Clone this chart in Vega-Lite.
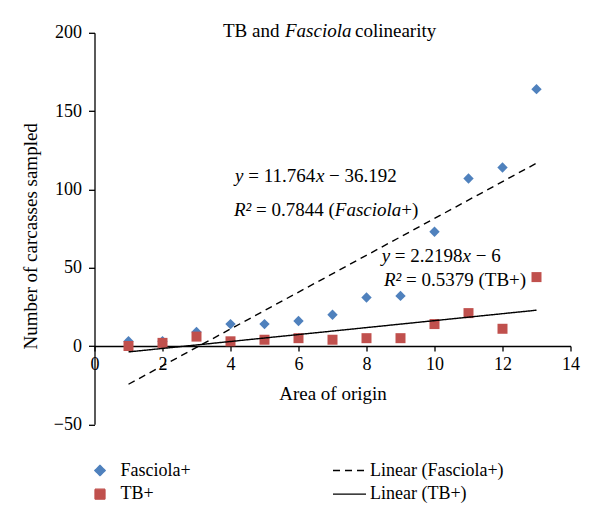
{
  "$schema": "https://vega.github.io/schema/vega-lite/v6.json",
  "width": 476,
  "height": 391.5,
  "autosize": "none",
  "padding": {"left": 94.5, "top": 32.8, "right": 29.5, "bottom": 99.7},
  "background": "white",
  "config": {
    "font": "Liberation Serif",
    "view": {"stroke": null},
    "axis": {
      "grid": false,
      "domainColor": "black",
      "domainWidth": 1.3,
      "tickColor": "black",
      "tickWidth": 1.3,
      "labelColor": "black",
      "titleColor": "black",
      "labelFont": "Liberation Serif",
      "titleFont": "Liberation Serif",
      "labelFontSize": 18,
      "titleFontSize": 19,
      "titleFontWeight": "normal",
      "labelFlush": false,
      "labelOverlap": false
    },
    "legend": {
      "title": null, "orient": "none", "legendX": -12, "legendY": 427.7,
      "padding": 0, "columns": 2, "columnPadding": 140.5, "rowPadding": 3.7,
      "clipHeight": 20, "labelOffset": 3,
      "labelFont": "Liberation Serif", "labelFontSize": 18, "labelColor": "black",
      "symbolStrokeWidth": 1.3, "symbolOpacity": 1
    },
    "text": {"font": "Liberation Serif", "fontSize": 19, "color": "black"}
  },
  "layer": [
    {
      "data": {
        "values": [
          {"area": 1, "count": 3, "series": "Fasciola+", "trend": "Linear (Fasciola+)"},
          {"area": 2, "count": 3, "series": "Fasciola+", "trend": "Linear (Fasciola+)"},
          {"area": 3, "count": 9, "series": "Fasciola+", "trend": "Linear (Fasciola+)"},
          {"area": 4, "count": 14, "series": "Fasciola+", "trend": "Linear (Fasciola+)"},
          {"area": 5, "count": 14, "series": "Fasciola+", "trend": "Linear (Fasciola+)"},
          {"area": 6, "count": 16, "series": "Fasciola+", "trend": "Linear (Fasciola+)"},
          {"area": 7, "count": 20, "series": "Fasciola+", "trend": "Linear (Fasciola+)"},
          {"area": 8, "count": 31, "series": "Fasciola+", "trend": "Linear (Fasciola+)"},
          {"area": 9, "count": 32, "series": "Fasciola+", "trend": "Linear (Fasciola+)"},
          {"area": 10, "count": 73, "series": "Fasciola+", "trend": "Linear (Fasciola+)"},
          {"area": 11, "count": 107, "series": "Fasciola+", "trend": "Linear (Fasciola+)"},
          {"area": 12, "count": 114, "series": "Fasciola+", "trend": "Linear (Fasciola+)"},
          {"area": 13, "count": 164, "series": "Fasciola+", "trend": "Linear (Fasciola+)"},
          {"area": 1, "count": 0, "series": "TB+", "trend": "Linear (TB+)"},
          {"area": 2, "count": 2, "series": "TB+", "trend": "Linear (TB+)"},
          {"area": 3, "count": 6, "series": "TB+", "trend": "Linear (TB+)"},
          {"area": 4, "count": 3, "series": "TB+", "trend": "Linear (TB+)"},
          {"area": 5, "count": 4, "series": "TB+", "trend": "Linear (TB+)"},
          {"area": 6, "count": 5, "series": "TB+", "trend": "Linear (TB+)"},
          {"area": 7, "count": 4, "series": "TB+", "trend": "Linear (TB+)"},
          {"area": 8, "count": 5, "series": "TB+", "trend": "Linear (TB+)"},
          {"area": 9, "count": 5, "series": "TB+", "trend": "Linear (TB+)"},
          {"area": 10, "count": 14, "series": "TB+", "trend": "Linear (TB+)"},
          {"area": 11, "count": 21, "series": "TB+", "trend": "Linear (TB+)"},
          {"area": 12, "count": 11, "series": "TB+", "trend": "Linear (TB+)"},
          {"area": 13, "count": 44, "series": "TB+", "trend": "Linear (TB+)"}
        ]
      },
      "encoding": {
        "x": {
          "field": "area", "type": "quantitative",
          "scale": {"domain": [0, 14], "nice": false, "zero": false},
          "axis": {
            "orient": "bottom", "offset": -78.3,
            "values": [0, 2, 4, 6, 8, 10, 12, 14],
            "tickSize": 5, "labelPadding": 4,
            "title": "Area of origin",
            "titleY": 47, "titleBaseline": "middle"
          }
        },
        "y": {
          "field": "count", "type": "quantitative",
          "scale": {"domain": [-50, 200], "nice": false, "zero": false},
          "axis": {
            "values": [-50, 0, 50, 100, 150, 200],
            "tickSize": 6, "labelPadding": 7,
            "title": "Number of carcasses sampled",
            "titleX": -64, "titleY": 203, "titleAngle": 270,
            "titleAlign": "center", "titleBaseline": "middle"
          }
        }
      },
      "layer": [
        {
          "mark": {"type": "point", "filled": true, "opacity": 1},
          "encoding": {
            "color": {
              "field": "series", "type": "nominal",
              "scale": {
                "domain": ["Fasciola+", "TB+", "Linear (Fasciola+)", "Linear (TB+)"],
                "range": ["#4F81BD", "#C0504D", "#000000", "#000000"]
              },
              "legend": {"title": null}
            },
            "shape": {
              "field": "series", "type": "nominal",
              "scale": {
                "domain": ["Fasciola+", "TB+", "Linear (Fasciola+)", "Linear (TB+)"],
                "range": ["diamond", "square", "stroke", "stroke"]
              },
              "legend": {"title": null}
            },
            "size": {
              "field": "series", "type": "nominal",
              "scale": {
                "type": "ordinal",
                "domain": ["Fasciola+", "TB+", "Linear (Fasciola+)", "Linear (TB+)"],
                "range": [108, 100, 1089, 1089]
              },
              "legend": {"title": null}
            }
          }
        },
        {
          "transform": [{"regression": "count", "on": "area", "groupby": ["trend"]}],
          "mark": {"type": "line", "strokeWidth": 1.4},
          "encoding": {
            "color": {"field": "trend", "type": "nominal", "legend": {"title": null}},
            "strokeDash": {
              "field": "trend", "type": "nominal",
              "scale": {
                "domain": ["Fasciola+", "TB+", "Linear (Fasciola+)", "Linear (TB+)"],
                "range": [[1, 0], [1, 0], [7, 5], [1, 0]]
              },
              "legend": {"title": null}
            }
          }
        }
      ]
    },
    {"data": {"values": [{}]}, "mark": {"type": "text", "align": "left", "baseline": "middle"}, "encoding": {"x": {"datum": 3.779}, "y": {"datum": 201.1}, "text": {"value": "TB and"}}},
    {"data": {"values": [{}]}, "mark": {"type": "text", "align": "left", "baseline": "middle", "fontStyle": "italic"}, "encoding": {"x": {"datum": 5.603}, "y": {"datum": 201.1}, "text": {"value": "Fasciola"}}},
    {"data": {"values": [{}]}, "mark": {"type": "text", "align": "left", "baseline": "middle"}, "encoding": {"x": {"datum": 7.662}, "y": {"datum": 201.1}, "text": {"value": "colinearity"}}},

    {"data": {"values": [{}]}, "mark": {"type": "text", "align": "left", "baseline": "middle", "fontStyle": "italic"}, "encoding": {"x": {"datum": 4.132}, "y": {"datum": 108.6}, "text": {"value": "y"}}},
    {"data": {"values": [{}]}, "mark": {"type": "text", "align": "left", "baseline": "middle"}, "encoding": {"x": {"datum": 4.521}, "y": {"datum": 108.6}, "text": {"value": "= 11.764"}}},
    {"data": {"values": [{}]}, "mark": {"type": "text", "align": "left", "baseline": "middle", "fontStyle": "italic"}, "encoding": {"x": {"datum": 6.512}, "y": {"datum": 108.6}, "text": {"value": "x"}}},
    {"data": {"values": [{}]}, "mark": {"type": "text", "align": "left", "baseline": "middle"}, "encoding": {"x": {"datum": 6.9}, "y": {"datum": 108.6}, "text": {"value": "− 36.192"}}},

    {"data": {"values": [{}]}, "mark": {"type": "text", "align": "left", "baseline": "middle", "fontStyle": "italic"}, "encoding": {"x": {"datum": 4.103}, "y": {"datum": 86.8}, "text": {"value": "R²"}}},
    {"data": {"values": [{}]}, "mark": {"type": "text", "align": "left", "baseline": "middle"}, "encoding": {"x": {"datum": 4.751}, "y": {"datum": 86.8}, "text": {"value": "= 0.7844 ("}}},
    {"data": {"values": [{}]}, "mark": {"type": "text", "align": "left", "baseline": "middle", "fontStyle": "italic"}, "encoding": {"x": {"datum": 7.069}, "y": {"datum": 86.8}, "text": {"value": "Fasciola"}}},
    {"data": {"values": [{}]}, "mark": {"type": "text", "align": "left", "baseline": "middle"}, "encoding": {"x": {"datum": 9.025}, "y": {"datum": 86.8}, "text": {"value": "+)"}}},

    {"data": {"values": [{}]}, "mark": {"type": "text", "align": "left", "baseline": "middle", "fontStyle": "italic"}, "encoding": {"x": {"datum": 8.447}, "y": {"datum": 57.3}, "text": {"value": "y"}}},
    {"data": {"values": [{}]}, "mark": {"type": "text", "align": "left", "baseline": "middle"}, "encoding": {"x": {"datum": 8.834}, "y": {"datum": 57.3}, "text": {"value": "= 2.2198"}}},
    {"data": {"values": [{}]}, "mark": {"type": "text", "align": "left", "baseline": "middle", "fontStyle": "italic"}, "encoding": {"x": {"datum": 10.825}, "y": {"datum": 57.3}, "text": {"value": "x"}}},
    {"data": {"values": [{}]}, "mark": {"type": "text", "align": "left", "baseline": "middle"}, "encoding": {"x": {"datum": 11.213}, "y": {"datum": 57.3}, "text": {"value": "− 6"}}},

    {"data": {"values": [{}]}, "mark": {"type": "text", "align": "left", "baseline": "middle", "fontStyle": "italic"}, "encoding": {"x": {"datum": 8.515}, "y": {"datum": 42.1}, "text": {"value": "R²"}}},
    {"data": {"values": [{}]}, "mark": {"type": "text", "align": "left", "baseline": "middle"}, "encoding": {"x": {"datum": 9.163}, "y": {"datum": 42.1}, "text": {"value": "= 0.5379 (TB+)"}}}
  ]
}
